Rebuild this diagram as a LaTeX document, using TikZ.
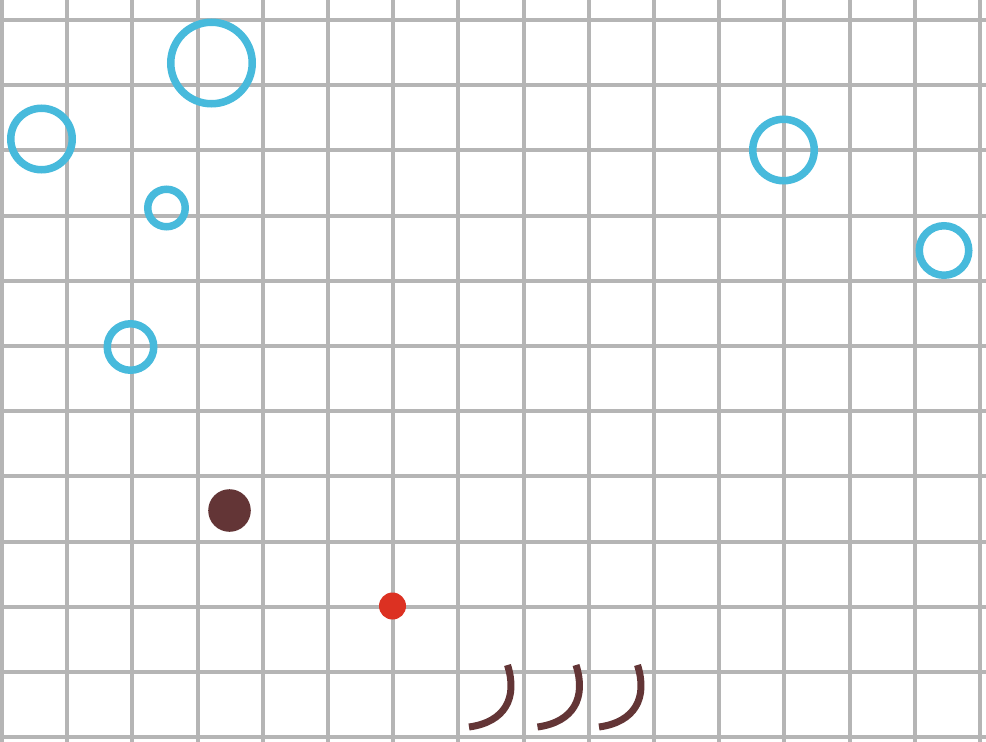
\documentclass[tikz,border=0pt]{standalone}
\usepackage{xcolor}
\usepackage{tikz}
\definecolor{gridgray}{HTML}{B5B5B5}
\definecolor{bubbleblue}{HTML}{47BADC}
\definecolor{darkbrown}{HTML}{633536}
\definecolor{dotred}{HTML}{DC3122}

\begin{document}
\begin{tikzpicture}[
    x=1pt, y=-1pt,
    gridline/.style={draw=gridgray, line width=4pt},
    ring/.style={circle, draw=bubbleblue, line width=7.5pt, inner sep=0pt, outer sep=0pt},
    blob/.style={circle, fill=darkbrown, inner sep=0pt, minimum size=42.6pt},
    spot/.style={circle, fill=dotred, inner sep=0pt, minimum size=27pt},
    hook/.style={draw=darkbrown, line width=7pt}
]
    \useasboundingbox (0,0) rectangle (986,742);
    \fill[white] (0,0) rectangle (986,742);

    % grid
    \foreach \i in {0,...,15}
        \draw[gridline] (2+65.2*\i,0) -- (2+65.2*\i,742);
    \foreach \j in {0,...,11}
        \draw[gridline] (0,20+65.2*\j) -- (986,20+65.2*\j);

    % rings
    \node[ring, minimum size=81.5pt] (bigring) at (211.5,63) {};
    \node[ring, minimum size=61.5pt] (leftring) at (41.5,139) {};
    \node[ring, minimum size=37.5pt] (smallring) at (166.5,208) {};
    \node[ring, minimum size=46.5pt] (lowring) at (130.5,347) {};
    \node[ring, minimum size=61.5pt] (farring) at (783.5,150) {};
    \node[ring, minimum size=49.5pt] (edgering) at (944,250.5) {};

    % dots
    \node[blob] (browndot) at (229.5,510.5) {};
    \node[spot] (reddot) at (392.5,606) {};

    % hooks
    \foreach \dx in {0,68.5,130}
        \draw[hook] (507.5+\dx,665) .. controls (518+\dx,698) and (505+\dx,722) .. (469+\dx,727);
\end{tikzpicture}
\end{document}
